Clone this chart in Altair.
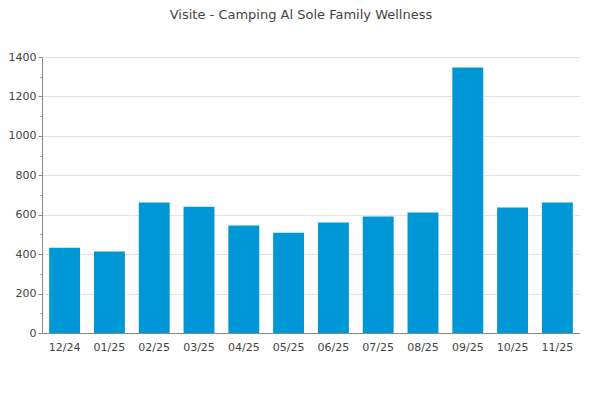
import altair as alt
import pandas as pd

months = ["12/24", "01/25", "02/25", "03/25", "04/25", "05/25",
          "06/25", "07/25", "08/25", "09/25", "10/25", "11/25"]
visits = [433, 413, 662, 641, 545, 509, 560, 591, 611, 1347, 636, 662]
y_ticks = list(range(0, 1500, 100))

df = pd.DataFrame({"month": months, "visits": visits})

chart = alt.Chart(df).mark_bar(color="#0097d7").encode(
    x=alt.X("month:N", sort=months, title=None,
            scale=alt.Scale(paddingInner=0.31, paddingOuter=0.16),
            axis=alt.Axis(labelAngle=0, ticks=False, labelPadding=8,
                          labelFontSize=11, labelColor="#444444",
                          labelFont="DejaVu Sans",
                          domainColor="#888888", grid=False)),
    y=alt.Y("visits:Q", title=None,
            scale=alt.Scale(domain=[0, 1400], nice=False),
            axis=alt.Axis(values=y_ticks, format="d",
                          labelExpr="datum.value % 200 == 0 ? datum.label : ''",
                          tickSize={"condition": {"test": "datum.value % 200 != 0", "value": 2}, "value": 4},
                          gridOpacity={"condition": {"test": "datum.value % 200 != 0", "value": 0}, "value": 1},
                          gridColor="#e4e4e4", tickColor="#888888",
                          domainColor="#888888", labelPadding=2,
                          labelFontSize=11, labelColor="#444444",
                          labelFont="DejaVu Sans")),
).properties(
    width=538,
    height=276,
    autosize=alt.AutoSizeParams(type="none"),
    padding={"left": 34, "top": 49, "right": 0, "bottom": 59},
    title=alt.TitleParams("Visite - Camping Al Sole Family Wellness",
                          font="DejaVu Sans", fontSize=13, fontWeight="normal",
                          color="#444444", offset=29, dx=-10, anchor="middle"),
).configure_view(stroke=None)

chart.save("out.html", embed_options={"renderer": "svg", "actions": False})
